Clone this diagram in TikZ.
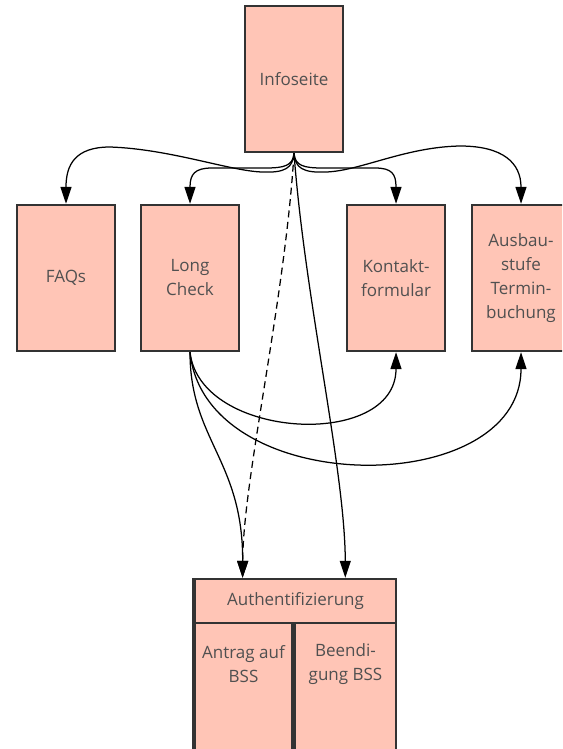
\documentclass[tikz,border=0pt]{standalone}
\usepackage{fontspec}
\setmainfont{Open Sans}
\usetikzlibrary{arrows.meta,calc}
\definecolor{boxfill}{RGB}{255,197,182}
\definecolor{boxline}{RGB}{51,51,51}
\definecolor{txtcol}{RGB}{80,80,80}
\begin{document}
\begin{tikzpicture}[x=1pt,y=-1pt,
  pagebox/.style={draw=boxline,fill=boxfill,line width=2.4pt,rectangle,
    minimum width=98pt,minimum height=146pt,inner sep=0pt,
    text=txtcol,align=center,font=\fontsize{17}{24}\selectfont},
  partbox/.style={draw=boxline,fill=boxfill,line width=2.4pt,rectangle,inner sep=0pt},
  lbl/.style={text=txtcol,align=center,inner sep=0pt,font=\fontsize{17}{23.5}\selectfont},
  conn/.style={line width=1.25pt,black,-{Triangle[length=17pt,width=11pt]}}]
\useasboundingbox (0,0) rectangle (562,749);
\clip (0,0) rectangle (562,749);
% page boxes
\node[pagebox] (info) at (294,79) {Infoseite};
\node[pagebox] (faq) at (66,278) {FAQs};
\node[pagebox] (lc) at (190,278) {Long\\Check};
\node[pagebox] (kf) at (396,278) {Kontakt-\\formular};
\node[pagebox] (ab) at (521,278) {Ausbau-\\stufe\\Termin-\\buchung};
% authentication group
\node[partbox,minimum width=203pt,minimum height=191pt] (authgrp) at (294.5,674.5) {};
\node[partbox,minimum width=201pt,minimum height=44pt,text=txtcol,
  font=\fontsize{17}{24}\selectfont] (auth) at (295.5,601) {Authentifizierung};
\node[partbox,minimum width=98pt,minimum height=150pt] (antrag) at (243.5,698) {};
\node[partbox,minimum width=101pt,minimum height=150pt] (beend) at (345.5,698) {};
\node[lbl] (antragt) at (243.5,664) {Antrag auf\\BSS};
\node[lbl] (beendt) at (345.5,664) {Beendi-\\gung BSS};
\coordinate (authL) at ($(auth.north west)!0.24!(auth.north east)$);
\coordinate (authR) at ($(auth.north west)!0.745!(auth.north east)$);
% connectors from Infoseite
\draw[conn] (info.south) .. controls (293,168) and (285,173) .. (262,172)
  .. controls (230,171) and (170,149) .. (110,147)
  .. controls (75,147) and (66,165) .. (faq.north);
\draw[conn] (info.south) .. controls (295,168) and (303,173) .. (326,172)
  .. controls (360,171) and (405,147) .. (460,146)
  .. controls (503,146) and (521,163) .. (ab.north);
\draw[conn] (info.south) .. controls (293,166) and (284,168) .. (265,168)
  -- (212,168) .. controls (195,168) and (190,174) .. (lc.north);
\draw[conn] (info.south) .. controls (295,166) and (304,168) .. (323,168)
  -- (375,168) .. controls (392,168) and (396,174) .. (kf.north);
\draw[conn,dash pattern=on 7pt off 4.5pt] (info.south) .. controls (285,300) and (243,480) .. (authL);
\draw[conn] (info.south) .. controls (305,300) and (345,470) .. (authR);
% connectors from Long Check
\draw[conn] (lc.south) .. controls (190,440) and (243,460) .. (authL);
\draw[conn] (lc.south) .. controls (200,440) and (396,450) .. (kf.south);
\draw[conn] (lc.south) .. controls (205,500) and (521,500) .. (ab.south);
\end{tikzpicture}
\end{document}
